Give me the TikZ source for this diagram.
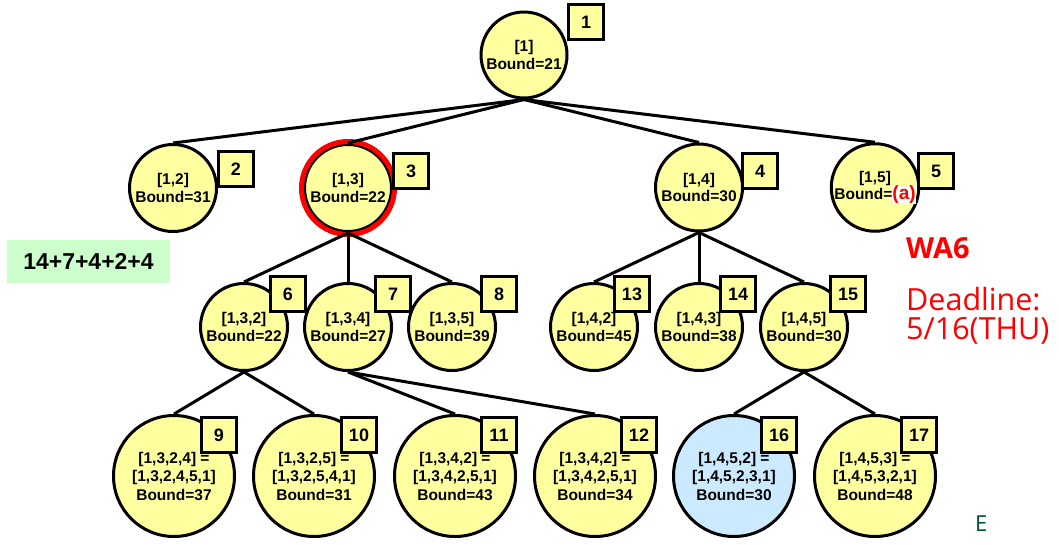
\documentclass[tikz,border=0pt]{standalone}
\usepackage{fontspec}
\setmainfont{Liberation Sans}
\newfontfamily\notefont{Open Sans}
\usepackage{tikz}

\definecolor{nodeyellow}{RGB}{255,255,160}
\definecolor{nodeblue}{RGB}{204,234,255}
\definecolor{sumgreen}{RGB}{204,255,204}
\definecolor{markgreen}{RGB}{0,80,45}

\begin{document}
\begin{tikzpicture}[x=1pt,y=-1pt,
  state/.style={circle,draw,line width=3pt,fill=nodeyellow,minimum size=87pt,inner sep=0pt,
    align=center,font=\bfseries\fontsize{15.5}{17.5}\selectfont},
  leaf/.style={state,minimum size=121pt,font=\bfseries\fontsize{15.5}{18.5}\selectfont},
  tag/.style={draw,line width=3.4pt,fill=nodeyellow,minimum size=35pt,inner sep=0pt,
    font=\bfseries\fontsize{18}{18}\selectfont},
  edge/.style={line width=3pt}]

  \useasboundingbox (0,0) rectangle (1059,544);

  % level 0 and 1
  \node[state,minimum size=86pt] (n1) at (524,55) {[1]\\Bound=21};
  \node[state] (n2) at (173,188) {[1,2]\\Bound=31};
  \node[state] (n3) at (348,188) {[1,3]\\Bound=22};
  \node[state] (n4) at (699,187.5) {[1,4]\\Bound=30};
  \node[state] (n5) at (875,187.5) {[1,5]\\Bound={\setlength\fboxsep{0pt}\colorbox{white}{\textcolor{red}{\fontsize{19}{19}\selectfont(a)}}}};

  \draw[red,line width=5pt] (n3.center) circle (46.5pt); % chosen node

  % level 2
  \node[state] (n6) at (244,327) {[1,3,2]\\Bound=22};
  \node[state] (n7) at (348,327) {[1,3,4]\\Bound=27};
  \node[state] (n8) at (452,327) {[1,3,5]\\Bound=39};
  \node[state] (n13) at (594,327) {[1,4,2]\\Bound=45};
  \node[state] (n14) at (699,327) {[1,4,3]\\Bound=38};
  \node[state] (n15) at (804,327) {[1,4,5]\\Bound=30};

  % level 3
  \node[leaf] (n9) at (174,476) {[1,3,2,4] =\\{}[1,3,2,4,5,1]\\Bound=37};
  \node[leaf] (n10) at (314,476) {[1,3,2,5] =\\{}[1,3,2,5,4,1]\\Bound=31};
  \node[leaf] (n11) at (455,476) {[1,3,4,2] =\\{}[1,3,4,2,5,1]\\Bound=43};
  \node[leaf] (n12) at (595,476) {[1,3,4,2] =\\{}[1,3,4,2,5,1]\\Bound=34};
  \node[leaf,fill=nodeblue] (n16) at (734,476) {[1,4,5,2] =\\{}[1,4,5,2,3,1]\\Bound=30};
  \node[leaf] (n17) at (875,476) {[1,4,5,3] =\\{}[1,4,5,3,2,1]\\Bound=48};

  \draw[edge] (n1.south) -- (n2.north);
  \draw[edge] (n1.south) -- (n3.north);
  \draw[edge] (n1.south) -- (n4.north);
  \draw[edge] (n1.south) -- (n5.north);
  \draw[edge] (n3.south) -- (n6.north);
  \draw[edge] (n3.south) -- (n7.north);
  \draw[edge] (n3.south) -- (n8.north);
  \draw[edge] (n4.south) -- (n13.north);
  \draw[edge] (n4.south) -- (n14.north);
  \draw[edge] (n4.south) -- (n15.north);
  \draw[edge] (n6.south) -- (n9.north);
  \draw[edge] (n6.south) -- (n10.north);
  \draw[edge] (n7.south) -- (n11.north);
  \draw[edge] (n7.south) -- (n12.north);
  \draw[edge] (n15.south) -- (n16.north);
  \draw[edge] (n15.south) -- (n17.north);

  % order tags
  \foreach \i/\x/\y in {1/586/22, 2/236/169, 3/411/171, 4/760/171, 5/936/171,
      6/288/294, 7/393/294, 8/499/294, 13/632/294, 14/738/294, 15/848/294,
      9/219/435, 10/359/435, 11/499/435, 12/639/435, 16/779/435, 17/919/435}
    \node[tag] (b\i) at (\x,\y) {\i};

  \node[fill=sumgreen,minimum width=163pt,minimum height=43pt,inner sep=0pt,
    font=\bfseries\fontsize{23}{23}\selectfont] (sum) at (88.5,261.5) {14+7+4+2+4};

  \node[anchor=base west,inner sep=0pt,text=red,font=\notefont\bfseries\fontsize{29}{29}\selectfont] (wa) at (906,258) {WA6};
  \node[anchor=base west,inner sep=0pt,text=red,font=\notefont\fontsize{30.5}{30.5}\selectfont] (dl) at (906,310) {Deadline:};
  \node[anchor=base west,inner sep=0pt,text=red,font=\notefont\fontsize{30.5}{30.5}\selectfont] (day) at (906,339) {5/16(THU)};

  \node[anchor=north west,inner sep=0pt,text=markgreen,font=\notefont\fontsize{22}{22}\selectfont] (mark) at (975,516) {E};
\end{tikzpicture}
\end{document}
